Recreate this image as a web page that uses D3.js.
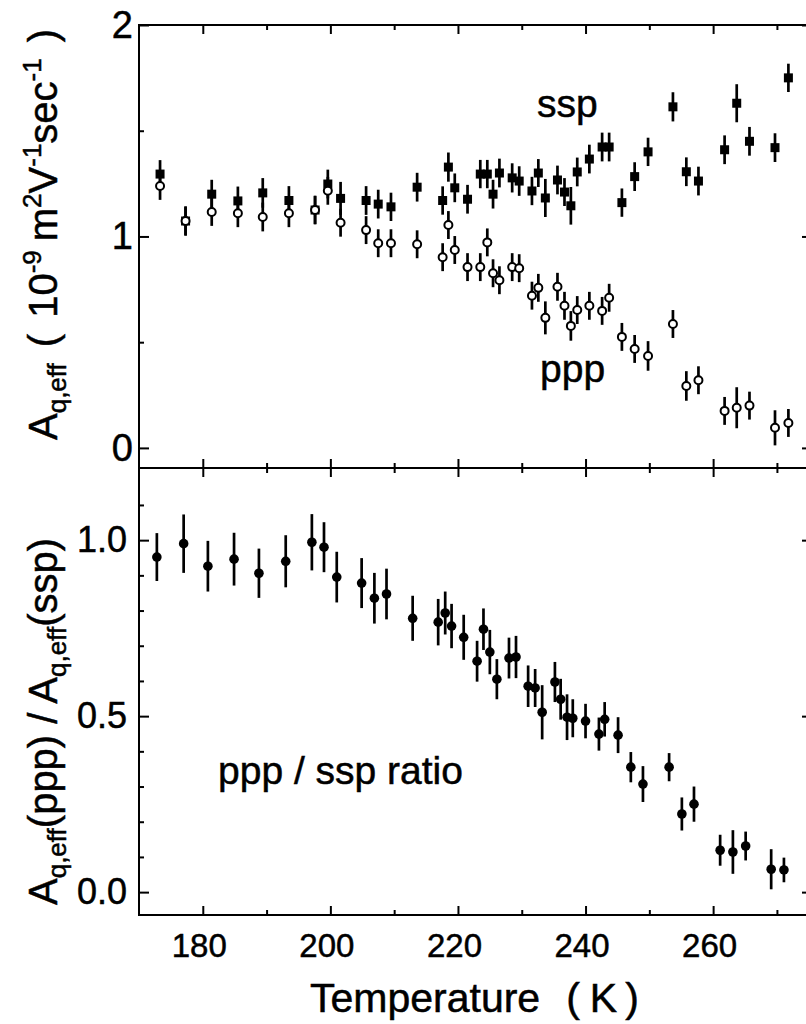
<!DOCTYPE html>
<html><head><meta charset="utf-8">
<script src="https://cdn.jsdelivr.net/npm/d3@7"></script>
<style>
body{margin:0;background:#fff}
svg{display:block}
text{font-family:"Liberation Sans",Arial,Helvetica,sans-serif;fill:#000;stroke:#000;stroke-width:0.5}
</style>
</head><body>
<svg id="c" width="806" height="1024"></svg>
<script>
// ---------------- data ----------------
const tTop   = [173.3,177.3,181.4,185.5,189.4,193.5,197.6,199.6,201.6,205.6,207.5,209.5,213.6,217.6,218.5,219.5,221.5,223.5,224.6,225.5,226.5,228.5,229.6,231.6,232.6,233.7,235.6,236.7,237.7,238.7,240.6,242.6,243.7,245.7,247.7,249.8,253.7,255.8,257.7,261.8,263.7,265.7,269.7,271.8];
const ssp    = [1.295,1.073,1.200,1.168,1.206,1.170,1.125,1.248,1.180,1.170,1.153,1.140,1.233,1.170,1.328,1.230,1.176,1.295,1.295,1.200,1.300,1.277,1.262,1.215,1.300,1.182,1.267,1.210,1.145,1.305,1.366,1.423,1.423,1.160,1.283,1.400,1.613,1.306,1.262,1.410,1.630,1.450,1.420,1.750];
const sspErr = [0.066,0.066,0.068,0.068,0.070,0.068,0.068,0.068,0.078,0.068,0.068,0.067,0.068,0.067,0.069,0.068,0.068,0.067,0.067,0.068,0.068,0.069,0.070,0.067,0.066,0.090,0.068,0.066,0.089,0.068,0.068,0.068,0.068,0.067,0.068,0.067,0.069,0.068,0.068,0.068,0.090,0.068,0.068,0.067];
const ppp    = [1.239,1.073,1.116,1.110,1.092,1.110,1.125,1.216,1.065,1.030,0.968,0.968,0.963,0.902,1.054,0.936,0.855,0.855,0.972,0.826,0.793,0.855,0.850,0.720,0.757,0.615,0.762,0.672,0.577,0.652,0.672,0.648,0.710,0.525,0.468,0.435,0.586,0.293,0.320,0.175,0.190,0.200,0.095,0.118];
const pppErr = [0.066,0.070,0.066,0.066,0.068,0.066,0.066,0.066,0.066,0.066,0.066,0.066,0.066,0.066,0.066,0.066,0.066,0.066,0.066,0.066,0.066,0.066,0.066,0.066,0.066,0.078,0.066,0.066,0.070,0.066,0.066,0.066,0.066,0.066,0.066,0.070,0.066,0.070,0.066,0.066,0.097,0.066,0.083,0.066];
const tRatio   = [172.8,177.0,180.8,184.9,188.8,193.0,197.1,199.0,201.0,204.9,206.9,208.8,212.9,216.9,218.0,219.0,220.9,223.0,224.0,225.0,226.1,228.0,229.1,231.0,232.1,233.2,235.2,236.1,237.1,238.0,240.0,242.1,243.0,245.1,247.1,249.0,253.1,255.1,257.0,261.1,263.1,265.1,269.1,271.1];
const ratio    = [0.952,0.990,0.926,0.946,0.906,0.940,0.994,0.980,0.895,0.878,0.835,0.847,0.778,0.767,0.793,0.756,0.724,0.656,0.747,0.682,0.605,0.665,0.668,0.585,0.580,0.511,0.597,0.548,0.497,0.494,0.486,0.449,0.491,0.446,0.355,0.307,0.355,0.222,0.250,0.119,0.114,0.131,0.065,0.063];
const ratioErr = [0.068,0.083,0.072,0.075,0.070,0.074,0.080,0.071,0.072,0.071,0.072,0.072,0.064,0.066,0.061,0.063,0.064,0.058,0.059,0.063,0.057,0.058,0.060,0.059,0.054,0.077,0.057,0.058,0.065,0.054,0.049,0.047,0.049,0.051,0.043,0.051,0.040,0.047,0.050,0.044,0.062,0.041,0.057,0.035];

const xMajor = [180,200,220,240,260];
const xMinor = [190,210,230,250,270];
const xLabels = ["180","200","220","240","260"];
const topMajor = [0,1,2];
const topMinor = [0.5,1.5];
const topLabels = ["0","1","2"];
const botMajor = [0,0.5,1.0];
const botMinor = [0.1,0.2,0.3,0.4,0.6,0.7,0.8,0.9,1.1];
const botLabels = ["0.0","0.5","1.0"];

// ---------------- layout ----------------
const svg = d3.select("#c");
const L = 139, R = 812, T = 25, M = 468, B = 915;
const x = d3.scaleLinear().domain([170, 275.5]).range([L, R]);
const yTop = d3.scaleLinear().domain([-0.095, 2]).range([M, T]);
const yBot = d3.scaleLinear().domain([-0.065, 1.205]).range([B, M]);
const MAJ = 9, MIN = 5;

function clean(g){ g.select(".domain").remove(); g.selectAll("line").attr("stroke","#000").attr("stroke-width",2); }

function xTicks(axisFn, y, vals, len, labels){
  const a = axisFn(x).tickValues(vals).tickSize(-len);
  if (labels) a.tickFormat((d,i)=>labels[i]).tickPadding(19); else a.tickFormat("");
  const g = svg.append("g").attr("transform",`translate(0,${y})`).call(a);
  clean(g);
  return g;
}
xTicks(d3.axisTop, T, xMajor, MAJ); xTicks(d3.axisTop, T, xMinor, MIN);
xTicks(d3.axisBottom, M, xMajor, MAJ); xTicks(d3.axisBottom, M, xMinor, MIN);
xTicks(d3.axisTop, M, xMajor, MAJ); xTicks(d3.axisTop, M, xMinor, MIN);
const gx = xTicks(d3.axisBottom, B, xMajor, MAJ, xLabels); xTicks(d3.axisBottom, B, xMinor, MIN);
gx.selectAll("text").attr("font-size",33).attr("dx",-4).attr("font-family",null).attr("fill",null);

function yTicks(axisFn, xpos, scale, vals, len, labels, fs, pad){
  const a = axisFn(scale).tickValues(vals).tickSize(-len);
  if (labels) a.tickFormat((d,i)=>labels[i]).tickPadding(pad); else a.tickFormat("");
  const g = svg.append("g").attr("transform",`translate(${xpos},0)`).call(a);
  clean(g);
  if (labels) g.selectAll("text").attr("font-size",fs).attr("font-family",null).attr("fill",null);
  return g;
}
yTicks(d3.axisLeft, L, yTop, topMajor, MAJ+1, topLabels, 38, 6);
yTicks(d3.axisLeft, L, yTop, topMinor, MIN);
yTicks(d3.axisRight, R, yTop, topMajor, MAJ+1);
yTicks(d3.axisRight, R, yTop, topMinor, MIN);
yTicks(d3.axisLeft, L, yBot, botMajor, MAJ+1, botLabels, 36, 12);
yTicks(d3.axisLeft, L, yBot, botMinor, MIN);
yTicks(d3.axisRight, R, yBot, botMajor, MAJ+1);
yTicks(d3.axisRight, R, yBot, botMinor, MIN);

// frame
svg.append("g").attr("fill","none").attr("stroke","#000").attr("stroke-width",2)
  .selectAll("path").data([[T,M],[M,B]]).join("path")
  .attr("d", d => `M${L},${d[0]}H${R}V${d[1]}H${L}Z`);

// ---------------- top panel ----------------
const topIdx = d3.range(tTop.length);
const gTop = svg.append("g");
gTop.selectAll("line.se").data(topIdx).join("line")
  .attr("x1",i=>x(tTop[i])).attr("x2",i=>x(tTop[i]))
  .attr("y1",i=>yTop(ssp[i]+sspErr[i])).attr("y2",i=>yTop(ssp[i]-sspErr[i]))
  .attr("stroke","#000").attr("stroke-width",2.7);
gTop.selectAll("rect").data(topIdx).join("rect")
  .attr("x",i=>x(tTop[i])-4.5).attr("y",i=>yTop(ssp[i])-4.5)
  .attr("width",9).attr("height",9).attr("fill","#000");
gTop.selectAll("line.pe").data(topIdx).join("line")
  .attr("x1",i=>x(tTop[i])).attr("x2",i=>x(tTop[i]))
  .attr("y1",i=>yTop(ppp[i]+pppErr[i])).attr("y2",i=>yTop(ppp[i]-pppErr[i]))
  .attr("stroke","#000").attr("stroke-width",2.7);
gTop.selectAll("circle").data(topIdx).join("circle")
  .attr("cx",i=>x(tTop[i])).attr("cy",i=>yTop(ppp[i])).attr("r",4)
  .attr("fill","#fff").attr("stroke","#000").attr("stroke-width",2);

// ---------------- bottom panel ----------------
const botIdx = d3.range(tRatio.length);
const gBot = svg.append("g");
gBot.selectAll("line").data(botIdx).join("line")
  .attr("x1",i=>x(tRatio[i])).attr("x2",i=>x(tRatio[i]))
  .attr("y1",i=>yBot(ratio[i]+ratioErr[i])).attr("y2",i=>yBot(ratio[i]-ratioErr[i]))
  .attr("stroke","#000").attr("stroke-width",2.7);
gBot.selectAll("circle").data(botIdx).join("circle")
  .attr("cx",i=>x(tRatio[i])).attr("cy",i=>yBot(ratio[i])).attr("r",4.8).attr("fill","#000");

// ---------------- text ----------------
svg.append("text").attr("x",537).attr("y",117).attr("font-size",39).text("ssp");
svg.append("text").attr("x",540).attr("y",382).attr("font-size",39).text("ppp");
svg.append("text").attr("x",218).attr("y",784).attr("font-size",39).text("ppp / ssp ratio");

const xt = svg.append("text").attr("x",310).attr("y",1012).attr("font-size",41);
xt.append("tspan").text("Temperature");
xt.append("tspan").attr("dx",26).text("(");
xt.append("tspan").attr("dx",10).text("K");
xt.append("tspan").attr("dx",8).text(")");

// top y title
const yt = svg.append("text").attr("transform","translate(57,440) rotate(-90)").attr("font-size",40);
yt.append("tspan").text("A");
yt.append("tspan").attr("font-size",26).attr("dy",9).text("q,eff");
yt.append("tspan").attr("dy",-9).attr("dx",16).text("(");
yt.append("tspan").attr("dx",16).text("10");
yt.append("tspan").attr("font-size",26).attr("dy",-16).text("-9");
yt.append("tspan").attr("dy",16).attr("dx",9).text("m");
yt.append("tspan").attr("font-size",26).attr("dy",-16).text("2");
yt.append("tspan").attr("dy",16).text("V");
yt.append("tspan").attr("font-size",26).attr("dy",-16).text("-1");
yt.append("tspan").attr("dy",16).text("sec");
yt.append("tspan").attr("font-size",26).attr("dy",-16).text("-1");
yt.append("tspan").attr("dy",16).attr("dx",16).text(")");

// bottom y title
const yb = svg.append("text").attr("transform","translate(57,905) rotate(-90)").attr("font-size",40);
yb.append("tspan").text("A");
yb.append("tspan").attr("font-size",26).attr("dy",9).text("q,eff");
yb.append("tspan").attr("dy",-9).text("(ppp) / A");
yb.append("tspan").attr("font-size",26).attr("dy",9).text("q,eff");
yb.append("tspan").attr("dy",-9).text("(ssp)");
</script>
</body></html>
